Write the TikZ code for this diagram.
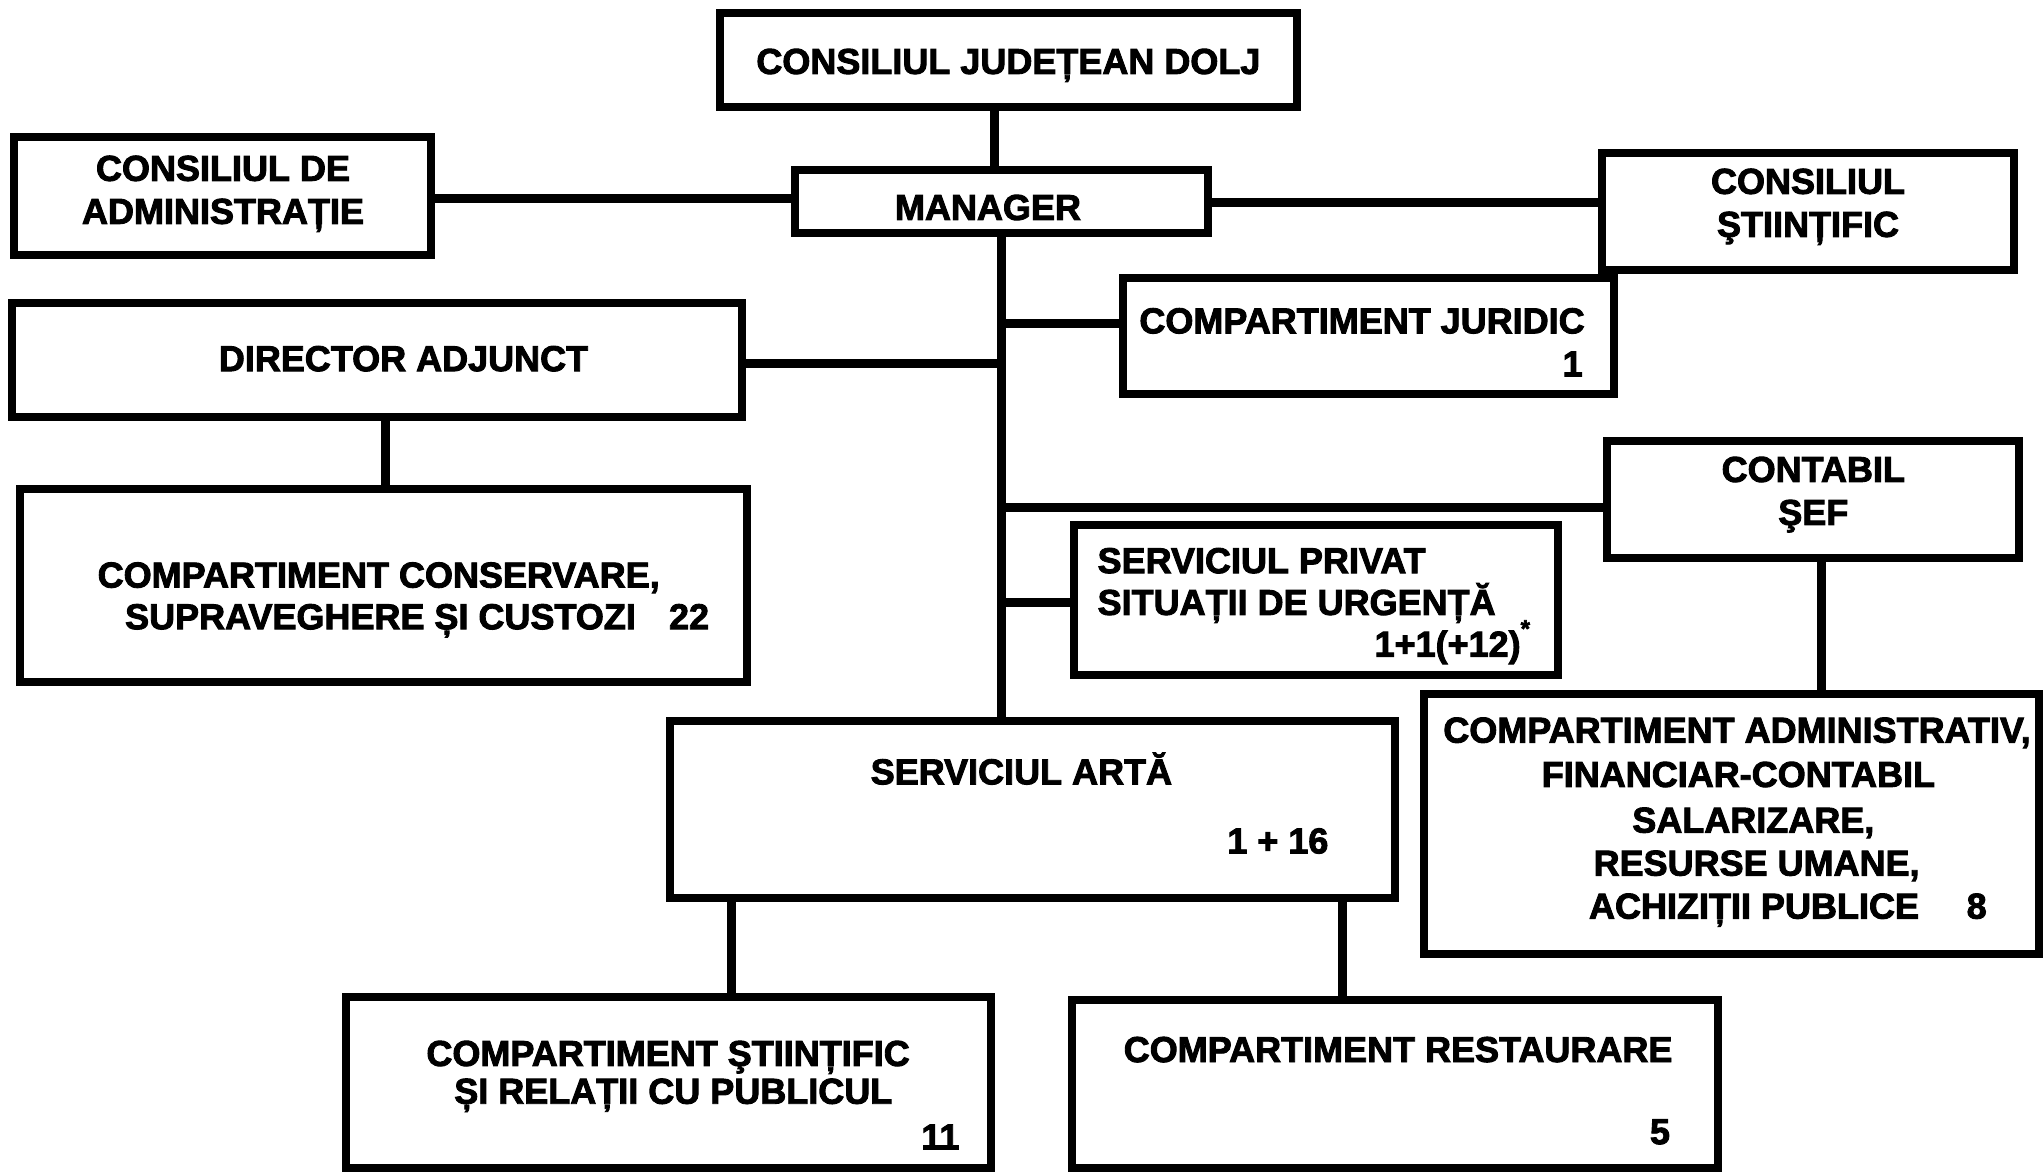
\documentclass[tikz,border=0pt]{standalone}
\usepackage{fontspec}
\setmainfont{Liberation Sans}[BoldFeatures={FakeBold=2.5}]
\begin{document}
\begin{tikzpicture}[x=1pt,y=-1pt,
  box/.style={draw=black,line width=8pt,fill=white,inner sep=0pt,rectangle},
  conn/.style={draw=black,line width=9pt},
  txt/.style={inner sep=0pt,outer sep=0pt,font=\fontsize{36}{40}\selectfont\bfseries}]
\useasboundingbox (0,0) rectangle (2044,1175);
\fill[white] (0,0) rectangle (2044,1175);
% coordinates for connectors
\coordinate (c1) at (994.6,0);
\coordinate (tx) at (1001.2,0);
\coordinate (yA) at (0,198.1);
\coordinate (yB) at (0,202.1);
\coordinate (yC) at (0,323.3);
\coordinate (yD) at (0,363.7);
\coordinate (yE) at (0,507.1);
\coordinate (yF) at (0,602.3);
\coordinate (xG) at (385.9,0);
\coordinate (xH) at (1821.1,0);
\coordinate (xI) at (731.3,0);
\coordinate (xJ) at (1342.7,0);
% boxes
\node[box,minimum width=577.3,minimum height=93.7] (cjd) at (1008.35,59.95) {};
\node[box,minimum width=417,minimum height=118.4] (cda) at (222.9,196.2) {};
\node[box,minimum width=413,minimum height=63.7] (man) at (1001.8,201.45) {};
\node[box,minimum width=411.8,minimum height=117.2] (cs) at (1808.1,211.2) {};
\node[box,minimum width=491.3,minimum height=115.8] (cj) at (1368.15,335.7) {};
\node[box,minimum width=729.9,minimum height=114.6] (da) at (376.75,359.8) {};
\node[box,minimum width=727.3,minimum height=192.7] (ccsc) at (383.25,585.35) {};
\node[box,minimum width=411.8,minimum height=117.2] (cont) at (1813.3,499.3) {};
\node[box,minimum width=483.4,minimum height=149.8] (sp) at (1316,600.3) {};
\node[box,minimum width=615.4,minimum height=260.6] (caf) at (1731.3,823.9) {};
\node[box,minimum width=724.7,minimum height=177.1] (sa) at (1032.45,809.55) {};
\node[box,minimum width=645.1,minimum height=170.7] (csrp) at (668.05,1082.65) {};
\node[box,minimum width=646.4,minimum height=168] (cr) at (1394.8,1084) {};
% connectors
\draw[conn] (cjd.south -| c1) -- (man.north -| c1);
\draw[conn] (cda.east |- yA) -- (man.west |- yA);
\draw[conn] (man.east |- yB) -- (cs.west |- yB);
\draw[conn] (man.south -| tx) -- (sa.north -| tx);
\draw[conn] (tx |- yC) -- (cj.west |- yC);
\draw[conn] (da.east |- yD) -- (tx |- yD);
\draw[conn] (tx |- yE) -- (cont.west |- yE);
\draw[conn] (tx |- yF) -- (sp.west |- yF);
\draw[conn] (da.south -| xG) -- (ccsc.north -| xG);
\draw[conn] (cont.south -| xH) -- (caf.north -| xH);
\draw[conn] (sa.south -| xI) -- (csrp.north -| xI);
\draw[conn] (sa.south -| xJ) -- (cr.north -| xJ);
% texts
\node[txt,anchor=base] (t-cjd) at (1008.4,73.9) {CONSILIUL JUDEȚEAN DOLJ};
\node[txt,anchor=base] (t-cda1) at (223,180.8) {CONSILIUL DE};
\node[txt,anchor=base] (t-cda2) at (223,223.8) {ADMINISTRAȚIE};
\node[txt,anchor=base] (t-man) at (988,219.9) {MANAGER};
\node[txt,anchor=base] (t-cs1) at (1808,193.8) {CONSILIUL};
\node[txt,anchor=base] (t-cs2) at (1808,236.8) {ŞTIINȚIFIC};
\node[txt,anchor=base west] (t-cj1) at (1139.4,333.3) {COMPARTIMENT JURIDIC};
\node[txt,anchor=base east] (t-cj2) at (1582.6,376.3) {1};
\node[txt,anchor=base] (t-da) at (403.5,371.1) {DIRECTOR ADJUNCT};
\node[txt,anchor=base] (t-cc1) at (378.7,587.5) {COMPARTIMENT CONSERVARE,};
\node[txt,anchor=base west] (t-cc2) at (125.1,629.2) {\makebox[584pt][l]{SUPRAVEGHERE ȘI CUSTOZI\hfill 22}};
\node[txt,anchor=base] (t-ct1) at (1813.3,481.9) {CONTABIL};
\node[txt,anchor=base] (t-ct2) at (1813.3,524.9) {ŞEF};
\node[txt,anchor=base west] (t-sp1) at (1097.6,573.1) {SERVICIUL PRIVAT};
\node[txt,anchor=base west] (t-sp2) at (1097.6,614.9) {SITUAȚII DE URGENȚĂ};
\node[txt,anchor=base east] (t-sp3) at (1530,656.6) {1+1(+12)\raisebox{0.55em}{\fontsize{24}{24}\selectfont *}};
\node[txt,anchor=base] (t-caf1) at (1737,742.6) {COMPARTIMENT ADMINISTRATIV,};
\node[txt,anchor=base] (t-caf2) at (1738.4,786.9) {FINANCIAR-CONTABIL};
\node[txt,anchor=base] (t-caf3) at (1753.3,832.6) {SALARIZARE,};
\node[txt,anchor=base] (t-caf4) at (1756.6,875.6) {RESURSE UMANE,};
\node[txt,anchor=base west] (t-caf5) at (1589,918.6) {\makebox[397.7pt][l]{ACHIZIȚII PUBLICE\hfill 8}};
\node[txt,anchor=base] (t-sa1) at (1021.4,784.3) {SERVICIUL ARTĂ};
\node[txt,anchor=base east] (t-sa2) at (1328.4,853.4) {1 + 16};
\node[txt,anchor=base] (t-cs3) at (668.1,1065.9) {COMPARTIMENT ŞTIINȚIFIC};
\node[txt,anchor=base] (t-cs4) at (673.3,1103.7) {ȘI RELAȚII CU PUBLICUL};
\node[txt,anchor=base east] (t-cs5) at (959.4,1149.3) {11};
\node[txt,anchor=base] (t-cr1) at (1398.1,1062) {COMPARTIMENT RESTAURARE};
\node[txt,anchor=base east] (t-cr2) at (1670,1144.1) {5};
\end{tikzpicture}
\end{document}
